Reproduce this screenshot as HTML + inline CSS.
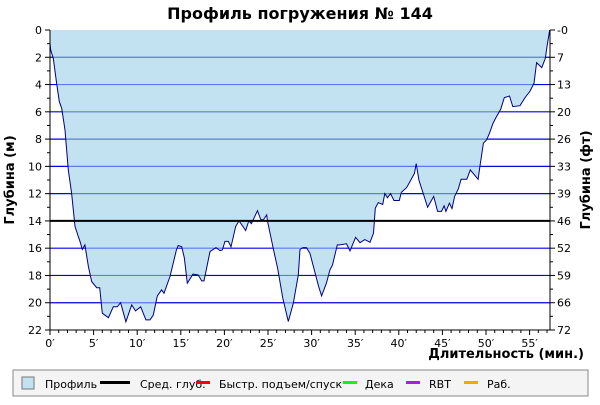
<!DOCTYPE html>
<html><head><meta charset="utf-8"><style>
body{margin:0;background:#fff;font-family:"Liberation Sans","DejaVu Sans",sans-serif}
svg text{font-family:"DejaVu Sans","Liberation Sans",sans-serif}
</style></head><body>
<svg id="chart" width="600" height="400" xmlns="http://www.w3.org/2000/svg">
<rect width="600" height="400" fill="#fff"/>
<text x="300" y="19" text-anchor="middle" font-size="16" font-weight="bold">Профиль погружения № 144</text>
<g id="grid"></g><g id="area"></g><g id="axes"></g>
<text x="584" y="358" text-anchor="end" font-size="13" font-weight="bold">Длительность (мин.)</text>
<text transform="translate(14,180) rotate(-90)" text-anchor="middle" font-size="13" font-weight="bold">Глубина (м)</text>
<text transform="translate(590,180) rotate(-90)" text-anchor="middle" font-size="13" font-weight="bold">Глубина (фт)</text>
<g font-size="11">
<rect x="13" y="370" width="575" height="26" fill="#f4f4f4" stroke="#888"/>
<g><rect x="22" y="377" width="12" height="12" fill="#c2e2f2" stroke="#777"/><text x="45" y="388">Профиль</text></g>
<g><rect x="100" y="381" width="30" height="3" fill="#000"/><text x="140" y="388">Сред. глуб.</text></g>
<g><rect x="196" y="381" width="14" height="3" fill="#f00"/><text x="219" y="388">Быстр. подъем/спуск</text></g>
<g><rect x="343" y="381" width="14" height="3" fill="#0f0"/><text x="365" y="388">Дека</text></g>
<g><rect x="406" y="381" width="14" height="3" fill="#a020f0"/><text x="429" y="388">RBT</text></g>
<g><rect x="464" y="381" width="14" height="3" fill="#ffa500"/><text x="487" y="388">Раб.</text></g>
</g>
</svg>
<script>
const times=[0,0.08,0.38,0.76,1.07,1.34,1.72,2.1,2.48,2.87,3.25,3.44,3.7,4.0,4.4,4.78,5.35,5.7,6.0,6.7,7.26,7.72,8.1,8.7,9.37,9.8,10.4,11.0,11.47,11.85,12.3,12.8,13.07,13.76,14.5,14.7,15.1,15.4,15.75,16.4,17.0,17.4,17.66,18.35,19.04,19.5,19.76,20.07,20.45,20.76,21.3,21.67,22.44,22.8,23.1,23.8,24.16,24.46,24.85,24.96,25.6,26.1,26.7,27.33,27.9,28.48,28.67,29.0,29.4,29.8,30.8,31.15,31.7,32.1,32.4,32.95,33.25,34.0,34.4,35.05,35.55,36.1,36.7,37.1,37.3,37.65,38.15,38.4,38.7,39.05,39.45,40.06,40.3,40.9,41.3,41.8,42.0,42.3,42.8,43.3,44.0,44.45,44.9,45.2,45.4,45.8,46.1,46.4,46.8,47.14,47.8,48.2,49.1,49.3,49.7,50.07,50.4,50.8,51.2,51.7,52.1,52.7,53.07,53.9,54.47,55.04,55.5,55.8,56.4,56.8,57.0,57.3];
const depths=[1.0,1.47,2.08,3.9,5.25,5.74,7.33,10.26,11.97,14.4,15.15,15.5,16.1,15.76,17.35,18.45,18.9,18.9,20.77,21.1,20.3,20.3,20.0,21.4,20.16,20.6,20.3,21.26,21.26,20.9,19.5,19.06,19.3,18.08,16.13,15.8,15.9,16.7,18.57,17.9,17.96,18.4,18.4,16.25,15.96,16.18,16.13,15.5,15.5,15.9,14.4,14.0,14.7,14.0,14.2,13.25,13.9,13.93,13.56,14.05,16.0,17.47,19.67,21.38,20.04,17.96,16.1,15.96,15.96,16.37,18.8,19.5,18.57,17.6,17.23,15.76,15.76,15.68,16.2,15.2,15.6,15.37,15.57,14.9,13.07,12.66,12.8,12.0,12.3,12.0,12.5,12.5,11.9,11.56,11.1,10.5,9.8,11.0,11.98,13.0,12.2,13.3,13.3,12.9,13.3,12.7,13.1,12.2,11.7,10.95,10.95,10.26,10.95,10.0,8.3,8.06,7.57,6.84,6.35,5.79,4.96,4.84,5.62,5.55,4.96,4.5,3.9,2.4,2.76,2.08,1.22,0];
const avgDepth=[14];
const xTicks=[0,5,10,15,20,25,30,35,40,45,50,55];
const yTicks=[0,2,4,6,8,10,12,14,16,18,20,22];
const ftTicks=[0,7,13,20,26,33,39,46,52,59,66,72];
const X0=50,X1=550,Y0=30,Y1=330,TMAX=57.34,DMAX=22;
const xs=t=>X0+t*(X1-X0)/TMAX, ys=d=>Y0+d*(Y1-Y0)/DMAX;
const NS='http://www.w3.org/2000/svg';
function mk(tag,attrs,parent){const e=document.createElementNS(NS,tag);for(const k in attrs)e.setAttribute(k,attrs[k]);parent.appendChild(e);return e;}
const grid=document.getElementById('grid'),area=document.getElementById('area'),axes=document.getElementById('axes');
yTicks.forEach(d=>{if(d===0||d===DMAX)return;const l=mk('line',{x1:X0,x2:X1,y1:ys(d),y2:ys(d),stroke:'#0000e6','stroke-width':1.2},grid);

});
let pts=times.map((t,i)=>xs(t).toFixed(1)+','+ys(depths[i]).toFixed(1)).join(' ');
const poly=mk('polygon',{points:xs(0)+','+ys(0)+' '+pts+' '+xs(times[times.length-1])+','+ys(0),fill:'rgba(153,207,233,0.6)'},area);


const line=mk('polyline',{points:pts,fill:'none',stroke:'#000080','stroke-width':1},area);


avgDepth.forEach(a=>{const l=mk('line',{x1:X0,x2:X1,y1:ys(a),y2:ys(a),stroke:'#000','stroke-width':2},area);

});
mk('line',{x1:X0,x2:X0,y1:Y0,y2:Y1,stroke:'#000'},axes);
mk('line',{x1:X1,x2:X1,y1:Y0,y2:Y1,stroke:'#000'},axes);
mk('line',{x1:X0,x2:X1,y1:Y1,y2:Y1,stroke:'#000'},axes);
for(let m=0;m<=57;m++){mk('line',{x1:xs(m),x2:xs(m),y1:Y1,y2:Y1+(m%5===0?5:3),stroke:'#000'},axes);}
for(let d=0;d<=22;d++){const L=d%2===0?5:3;mk('line',{x1:X0-L,x2:X0,y1:ys(d),y2:ys(d),stroke:'#000'},axes);mk('line',{x1:X1,x2:X1+L,y1:ys(d),y2:ys(d),stroke:'#000'},axes);}
xTicks.forEach(t=>{const e=mk('text',{x:xs(t),y:Y1+17,'text-anchor':'middle','font-size':11},axes);e.textContent=t+'′';

});
yTicks.forEach(d=>{const e=mk('text',{x:X0-8,y:ys(d)+4,'text-anchor':'end','font-size':11},axes);e.textContent=d;

});
ftTicks.forEach((f,i)=>{const e=mk('text',{x:X1+7,y:ys(yTicks[i])+4,'font-size':11},axes);e.textContent=(i===0?'-':'')+f;

});
</script>
</body></html>
